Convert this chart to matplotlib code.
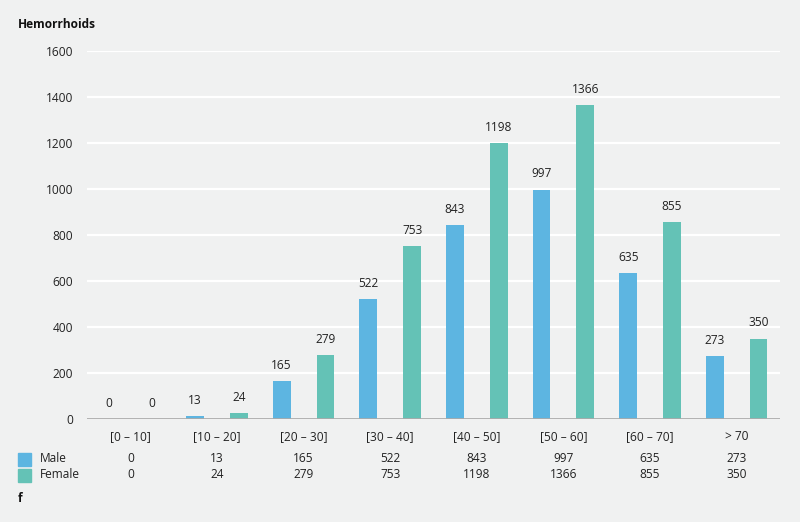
import numpy as np
import matplotlib.pyplot as plt
from matplotlib.patches import Rectangle

plt.rcParams['font.family'] = ['Open Sans', 'DejaVu Sans']

# data
age_groups = ["[0 – 10]", "[10 – 20]", "[20 – 30]", "[30 – 40]",
              "[40 – 50]", "[50 – 60]", "[60 – 70]", "> 70"]
male = [0, 13, 165, 522, 843, 997, 635, 273]
female = [0, 24, 279, 753, 1198, 1366, 855, 350]
y_ticks = [0, 200, 400, 600, 800, 1000, 1200, 1400, 1600]

bg = "#f0f1f1"
male_col = "#5db5e1"
female_col = "#64c2b6"
fs = 8.6

fig = plt.figure(figsize=(8, 5.22), dpi=100, facecolor=bg)
ax = fig.add_axes([87 / 800, (522 - 419) / 522, 693 / 800, 368 / 522])
ax.set_facecolor(bg)

x = np.arange(len(age_groups))
off = 0.253
w = 0.205
ax.bar(x - off, male, w, color=male_col, zorder=3)
ax.bar(x + off, female, w, color=female_col, zorder=3)

for i in range(len(x)):
    ax.text(x[i] - off, male[i] + 40, str(male[i]), ha="center", va="bottom",
            fontsize=fs, color="#222222")
    ax.text(x[i] + off, female[i] + 40, str(female[i]), ha="center", va="bottom",
            fontsize=fs, color="#222222")

ax.set_xlim(-0.5, 7.5)
ax.set_ylim(0, 1600)
ax.set_yticks(y_ticks)
ax.set_yticklabels([str(t) for t in y_ticks], fontsize=fs, color="#222222")
ax.set_xticks(x)
ax.set_xticklabels(age_groups, fontsize=fs, color="#222222")
ax.tick_params(length=0, pad=10)
ax.tick_params(axis="x", pad=8)
for s in ax.spines.values():
    s.set_visible(False)
ax.grid(axis="y", color="white", linewidth=1.6, zorder=0)
ax.axhline(0, color="#aaaaaa", linewidth=2, zorder=4)

# title
fig.text(18 / 800, 1 - 25 / 522, "Hemorrhoids", fontsize=fs, fontweight="bold",
         va="center", ha="left", color="#111111")

# data table below
rows = [("Male", male, male_col, 459), ("Female", female, female_col, 475)]
for name, vals, col, ypix in rows:
    yf = 1 - ypix / 522
    fig.patches.append(Rectangle((18 / 800, yf - 6.5 / 522), 13 / 800, 13 / 522,
                                 transform=fig.transFigure, color=col))
    fig.text(40 / 800, yf, name, fontsize=fs, va="center", ha="left", color="#222222")
    for i in range(len(vals)):
        xf = ax.transData.transform((x[i], 0))[0] / fig.bbox.width
        fig.text(xf, yf, str(vals[i]), fontsize=fs, va="center", ha="center",
                 color="#222222")

fig.text(18 / 800, 1 - 499 / 522, "f", fontsize=fs, fontweight="bold",
         va="center", ha="left", color="#111111")

fig.savefig("out.png", dpi=100, facecolor=bg)
